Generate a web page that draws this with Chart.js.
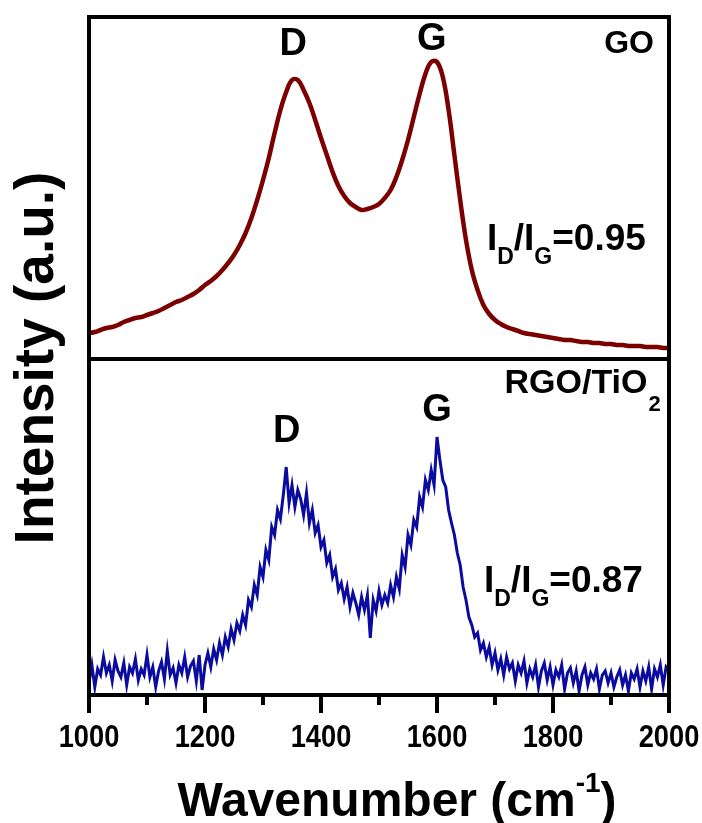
<!DOCTYPE html>
<html>
<head>
<meta charset="utf-8">
<script src="https://cdn.jsdelivr.net/npm/chart.js@4.4.1/dist/chart.umd.min.js"></script>
<style>
  html, body { margin: 0; padding: 0; background: #fff; }
  canvas { display: block; }
</style>
</head>
<body>
<canvas id="ramanChart" width="702" height="823"></canvas>
<script>
// Raman spectra (arbitrary intensity units)
const xTicks = [1000, 1200, 1400, 1600, 1800, 2000];
const xMinorTicks = [1100, 1300, 1500, 1700, 1900];

// GO spectrum, sampled every 10 cm-1 from 1000 to 2000
const goStart = 1000;
const goStep = 10;
const goIntensity = [
    26, 27, 29, 31, 32, 34, 37, 39, 41, 42,
    44, 46, 48, 51, 54, 57, 59, 62, 65, 69,
    74, 78, 83, 89, 96, 104, 114, 126, 141, 159,
    179, 201, 226, 249, 267, 279, 279, 269, 256, 239,
    221, 204, 187, 173, 163, 156, 152, 149, 150, 152,
    155, 161, 169, 182, 199, 219, 242, 265, 285, 297,
    297, 282, 249, 204, 159, 119, 89, 69, 54, 45,
    39, 35, 32, 30, 28, 26, 25, 24, 23, 22,
    21, 20, 19, 19, 18, 17, 17, 16, 16, 15,
    15, 14, 14, 13, 13, 13, 12, 12, 12, 11,
    11
];

// RGO/TiO2 spectrum, sampled every 5 cm-1 from 1000 to 2000 (noisy)
const rgoStart = 1000;
const rgoStep = 5;
const rgoIntensity = [
    12, 30, 8, 26, 20, 38, 22, 30, 14, 35,
    24, 18, 32, 10, 28, 22, 36, 15, 26, 20,
    40, 18, 28, 8, 24, 33, 16, 44, 20, 27,
    12, 30, 22, 38, 18, 29, 34, 14, 40, 5,
    30, 42, 28, 46, 35, 52, 40, 58, 48, 66,
    55, 72, 64, 80, 70, 95, 88, 110, 100, 128,
    118, 145, 135, 168, 160, 185, 176, 200, 228, 192,
    210, 188, 205, 196, 180, 202, 172, 185, 162, 170,
    148, 155, 132, 140, 118, 126, 105, 112, 96, 108,
    88, 102, 92, 80, 98, 85, 100, 57, 95, 84,
    104, 90, 100, 92, 110, 98, 118, 106, 140, 128,
    160, 150, 175, 168, 198, 188, 215, 205, 225, 210,
    258, 235, 215, 208, 185, 172, 160, 142, 130, 108,
    95, 78, 70, 58, 62, 45, 52, 38, 48, 30,
    42, 25, 36, 20, 38, 26, 32, 14, 30, 22,
    34, 12, 26, 18, 30, 8, 24, 32, 15, 28,
    10, 25, 18, 30, 6, 22, 27, 12, 24, 4,
    20, 28, 10, 22, 16, 26, 6, 20, 24, 12,
    22, 8, 18, 25, 10, 20, 4, 22, 16, 26,
    8, 24, 14, 28, 6, 26, 18, 30, 10, 28,
    24
];

const goPoints = goIntensity.map((v, i) => ({ x: goStart + i * goStep, y: v }));
const rgoPoints = rgoIntensity.map((v, i) => ({ x: rgoStart + i * rgoStep, y: v }));

const FONT = "'Liberation Sans', Arial, sans-serif";

// draws "I_D/I_G=value" with subscripts
function drawRatio(c, x, y, sub1, sub2, value) {
    const big = 'bold 37px ' + FONT;
    const small = 'bold 23px ' + FONT;
    c.textAlign = 'left';
    c.textBaseline = 'alphabetic';
    const parts = [['I', big, 0], [sub1, small, 14], ['/I', big, 0], [sub2, small, 14], ['=' + value, big, 0]];
    parts.forEach(p => {
        c.font = p[1];
        c.fillText(p[0], x, y + p[2]);
        x += c.measureText(p[0]).width;
    });
}

// frame, ticks, axis titles and peak labels
const decorPlugin = {
    id: 'decor',
    afterDatasetsDraw(chart) {
        const c = chart.ctx;
        const area = chart.chartArea;
        const xs = chart.scales.x;
        const top = chart.scales.yTop;
        const bot = chart.scales.yBottom;
        c.save();
        c.strokeStyle = '#000';
        c.fillStyle = '#000';
        c.lineWidth = 4;
        c.strokeRect(area.left, area.top, area.right - area.left, area.bottom - area.top);
        // panel divider
        c.beginPath();
        c.moveTo(area.left, top.bottom);
        c.lineTo(area.right, top.bottom);
        c.stroke();

        // x ticks
        xTicks.forEach(v => {
            const px = xs.getPixelForValue(v);
            c.beginPath();
            c.moveTo(px, area.bottom);
            c.lineTo(px, area.bottom + 18);
            c.stroke();
        });
        xMinorTicks.forEach(v => {
            const px = xs.getPixelForValue(v);
            c.beginPath();
            c.moveTo(px, area.bottom);
            c.lineTo(px, area.bottom + 10);
            c.stroke();
        });
        // tick labels, slightly condensed like the original
        c.font = 'bold 31px ' + FONT;
        c.textAlign = 'center';
        c.textBaseline = 'alphabetic';
        xTicks.forEach(v => {
            c.save();
            c.translate(xs.getPixelForValue(v), area.bottom + 52);
            c.scale(0.88, 1);
            c.fillText(String(v), 0, 0);
            c.restore();
        });

        // x title with superscript
        const t1 = 'Wavenumber (cm';
        const t2 = '-1';
        const t3 = ')';
        c.font = 'bold 48px ' + FONT;
        const w1 = c.measureText(t1).width;
        const w3 = c.measureText(t3).width;
        c.font = 'bold 28px ' + FONT;
        const w2 = c.measureText(t2).width;
        let tx = 397 - (w1 + w2 + w3) / 2;
        const ty = area.bottom + 121;
        c.textAlign = 'left';
        c.font = 'bold 48px ' + FONT;
        c.fillText(t1, tx, ty);
        tx += w1;
        c.font = 'bold 28px ' + FONT;
        c.fillText(t2, tx, ty - 24);
        tx += w2;
        c.font = 'bold 48px ' + FONT;
        c.fillText(t3, tx, ty);

        // y title
        c.save();
        c.translate(53, 358);
        c.rotate(-Math.PI / 2);
        c.textAlign = 'center';
        c.font = 'bold 55px ' + FONT;
        c.fillText('Intensity (a.u.)', 0, 0);
        c.restore();

        // peak labels, top panel
        c.textAlign = 'center';
        c.textBaseline = 'middle';
        c.font = 'bold 38px ' + FONT;
        c.fillText('D', xs.getPixelForValue(1352), top.getPixelForValue(314));
        c.fillText('G', xs.getPixelForValue(1591), top.getPixelForValue(319));
        c.font = 'bold 32px ' + FONT;
        c.textAlign = 'right';
        c.fillText('GO', xs.getPixelForValue(1974), top.getPixelForValue(315));
        drawRatio(c, xs.getPixelForValue(1686), top.getPixelForValue(109), 'D', 'G', '0.95');

        // bottom panel
        c.textAlign = 'center';
        c.textBaseline = 'middle';
        c.font = 'bold 38px ' + FONT;
        c.fillText('D', xs.getPixelForValue(1341), bot.getPixelForValue(263));
        c.fillText('G', xs.getPixelForValue(1600), bot.getPixelForValue(284));
        c.textBaseline = 'alphabetic';
        c.textAlign = 'left';
        c.font = 'bold 22px ' + FONT;
        const subW = c.measureText('2').width;
        c.font = 'bold 34px ' + FONT;
        const mainW = c.measureText('RGO/TiO').width;
        const rx = xs.getPixelForValue(1984) - subW - mainW;
        const ry = bot.getPixelForValue(302);
        c.fillText('RGO/TiO', rx, ry);
        c.font = 'bold 22px ' + FONT;
        c.fillText('2', rx + mainW + 1, ry + 18);
        drawRatio(c, xs.getPixelForValue(1681), bot.getPixelForValue(103), 'D', 'G', '0.87');
        c.restore();
    }
};

const ctx = document.getElementById('ramanChart').getContext('2d');
const hiddenAxis = {
    ticks: { display: false },
    grid: { display: false, drawTicks: false },
    border: { display: false }
};
// in a scale stack the last one listed ends up on top
const ramanChart = new Chart(ctx, {
    type: 'line',
    data: {
        datasets: [
            {
                label: 'GO',
                data: goPoints,
                yAxisID: 'yTop',
                borderColor: '#7b0000',
                borderWidth: 4.5,
                pointRadius: 0,
                tension: 0.4,
                fill: false
            },
            {
                label: 'RGO/TiO2',
                data: rgoPoints,
                yAxisID: 'yBottom',
                borderColor: '#0b0ba0',
                borderWidth: 3,
                pointRadius: 0,
                tension: 0,
                fill: false
            }
        ]
    },
    options: {
        responsive: false,
        animation: false,
        layout: { padding: { left: 89, right: 33, top: 17, bottom: 128 } },
        scales: {
            x: Object.assign({ type: 'linear', min: 1000, max: 2000 }, hiddenAxis),
            yBottom: Object.assign({ type: 'linear', position: 'left', stack: 'panels', stackWeight: 336, min: 0, max: 336 }, hiddenAxis),
            yTop: Object.assign({ type: 'linear', position: 'left', stack: 'panels', stackWeight: 342, min: 0, max: 342 }, hiddenAxis)
        },
        plugins: {
            legend: { display: false },
            tooltip: { enabled: false }
        }
    },
    plugins: [decorPlugin]
});
</script>
</body>
</html>
